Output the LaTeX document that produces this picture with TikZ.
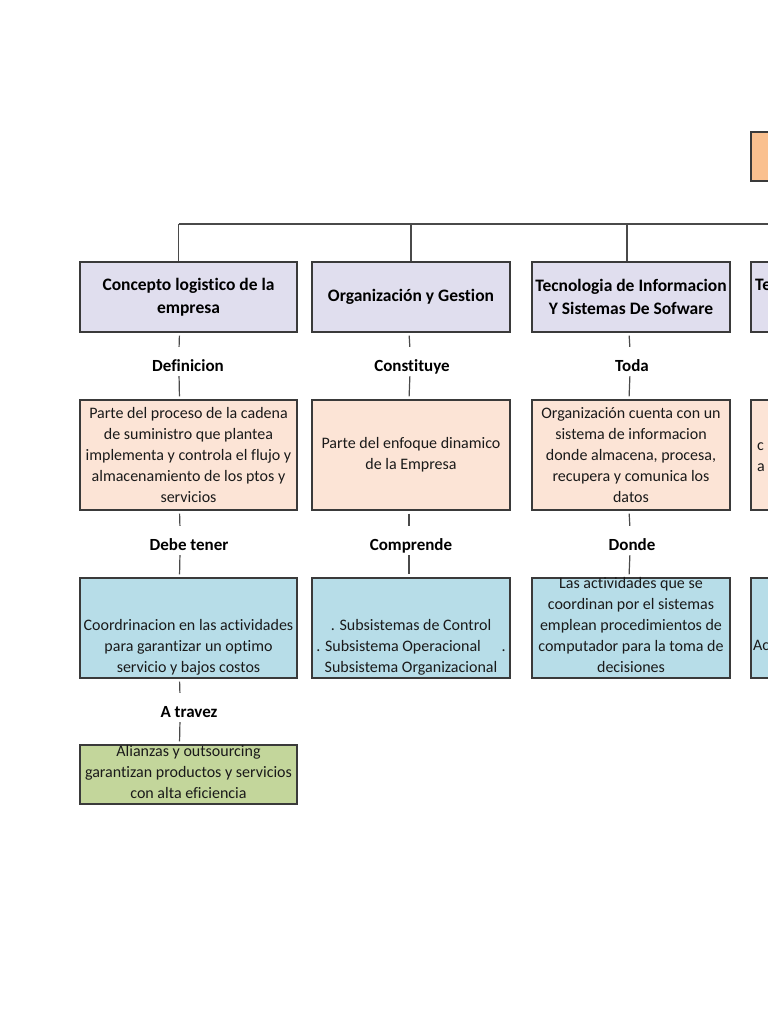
\documentclass[tikz,border=0pt]{standalone}
\usepackage{fontspec}
\usepackage{xcolor}
\setmainfont{Carlito}[Ligatures={NoCommon}]
\definecolor{titleorange}{HTML}{FAC08F}
\definecolor{headfill}{HTML}{E0DEEE}
\definecolor{peachfill}{HTML}{FCE4D6}
\definecolor{bluefill}{HTML}{B7DDE8}
\definecolor{greenfill}{HTML}{C3D69B}
\definecolor{boxline}{HTML}{3A3A3A}
\definecolor{wirecol}{HTML}{4A4A4A}
\definecolor{txtcol}{HTML}{1A1A1A}

\begin{document}
\begin{tikzpicture}
  [x=1pt,y=-1pt,
   box/.style={rectangle,draw=boxline,line width=1.3pt,inner sep=2pt,minimum width=#1},
   headbox/.style={box=#1,fill=headfill,minimum height=70pt,align=center,
     font=\bfseries\fontsize{17.5}{23}\selectfont},
   peachbox/.style={box=#1,fill=peachfill,minimum height=110pt,align=center,
     text=txtcol,font=\fontsize{16}{21}\selectfont},
   bluebox/.style={box=#1,fill=bluefill,minimum height=100pt},
   greenbox/.style={box=#1,fill=greenfill,minimum height=59pt},
   bodytxt/.style={anchor=south,align=center,inner xsep=3pt,inner ysep=0pt,text=txtcol,
     font=\fontsize{16}{21}\selectfont,execute at end node=\strut},
   linklabel/.style={inner xsep=4pt,inner ysep=2pt,text height=19pt,text depth=0pt,
     font=\bfseries\fontsize{17}{23}\selectfont},
   wire/.style={draw=wirecol,line width=1.2pt},
   tick/.style={wire,shorten <=3pt,shorten >=3pt}]

  \fill[white] (0,0) rectangle (768,1023);
  \useasboundingbox (0,0) rectangle (768,1023);
  \clip (0,0) rectangle (768,1023);

  % titulo (cortado a la derecha)
  \node[box=217pt,fill=titleorange,minimum height=49pt] (title) at (859.5,156.5) {};

  % primera fila
  \node[headbox=217pt] (h1) at (188.5,297) {Concepto logistico de la\\empresa};
  \node[headbox=198pt] (h2) at (411,297) {Organización y Gestion};
  \node[headbox=198pt] (h3) at (631,297) {Tecnologia de Informacion\\Y Sistemas De Sofware};
  \node[headbox=217pt] (h4) at (859.5,297) {};
  \node[anchor=base west,inner sep=0pt,font=\bfseries\fontsize{17.5}{23}\selectfont]
    (h4txt) at (755,290) {Te};

  % segunda fila
  \node[peachbox=217pt] (p1) at (188.5,455) {Parte del proceso de la cadena\\de suministro que plantea\\implementa y controla el flujo y\\almacenamiento de los ptos y\\servicios};
  \node[peachbox=198pt] (p2) at (411,455) {Parte del enfoque dinamico\\de la Empresa};
  \node[peachbox=198pt] (p3) at (631,455) {Organización cuenta con un\\sistema de informacion\\donde almacena, procesa,\\recupera y comunica los\\datos};
  \node[peachbox=217pt] (p4) at (859.5,455) {};
  \node[anchor=base west,inner sep=0pt,text=txtcol,font=\fontsize{16}{21}\selectfont]
    (p4txt) at (757,450) {c};
  \node[anchor=base west,inner sep=0pt,text=txtcol,font=\fontsize{16}{21}\selectfont]
    (p4txtb) at (757,471) {a};

  % tercera fila
  \node[bluebox=217pt] (b1) at (188.5,628) {};
  \node[bluebox=198pt] (b2) at (411,628) {};
  \node[bluebox=198pt] (b3) at (631,628) {};
  \node[bluebox=217pt] (b4) at (859.5,628) {};
  \node[bodytxt] (b1txt) at (b1.south) {Coordrinacion en las actividades\\para garantizar un optimo\\servicio y bajos costos};
  \node[bodytxt] (b2txt) at (b2.south) {. Subsistemas de Control\\. Subsistema Operacional\hspace{1.3em}.\\Subsistema Organizacional};
  \node[bodytxt] (b3txt) at (b3.south) {Las actividades que se\\coordinan por el sistemas\\emplean procedimientos de\\computador para la toma de\\decisiones};
  \node[anchor=base west,inner sep=0pt,text=txtcol,font=\fontsize{16}{21}\selectfont]
    (b4txt) at (753,650) {Ac};

  % cuarta fila
  \node[greenbox=217pt] (g1) at (188.5,774.5) {};
  \node[bodytxt] (g1txt) at (g1.south) {Alianzas y outsourcing\\garantizan productos y servicios\\con alta eficiencia};

  % conectores
  \node[linklabel] (l11) at (188,361.5) {Definicion};
  \node[linklabel] (l12) at (189,540.5) {Debe tener};
  \node[linklabel] (l13) at (189,707.5) {A travez};
  \node[linklabel] (l21) at (412,361.5) {Constituye};
  \node[linklabel] (l22) at (411,540.5) {Comprende};
  \node[linklabel] (l31) at (632,361.5) {Toda};
  \node[linklabel] (l32) at (632,540.5) {Donde};

  \coordinate (bus) at (0,224);
  \draw[wire] ([xshift=-10pt]h1.north |- bus) -- (h4.north |- bus);
  \draw[wire] ([xshift=-10pt]h1.north) -- ([xshift=-10pt]h1.north |- bus);
  \draw[wire] ([xshift=-4pt]h3.north) -- ([xshift=-4pt]h3.north |- bus);
  \foreach \n in {h2,h4}
    \draw[wire] (\n.north) -- (\n.north |- bus);
  \draw[wire] (title.south) -- (title.south |- bus);

  \foreach \from/\to in {h1/l11,l11/p1,p1/l12,l12/b1,b1/l13,l13/g1}
    \draw[tick] ([xshift=-9pt]\from.south) -- ([xshift=-9pt]\to.north);
  \foreach \from/\to in {h2/l21,l21/p2,p2/l22,l22/b2,h3/l31,l31/p3,p3/l32,l32/b3}
    \draw[tick] ([xshift=-2pt]\from.south) -- ([xshift=-2pt]\to.north);

\end{tikzpicture}
\end{document}
